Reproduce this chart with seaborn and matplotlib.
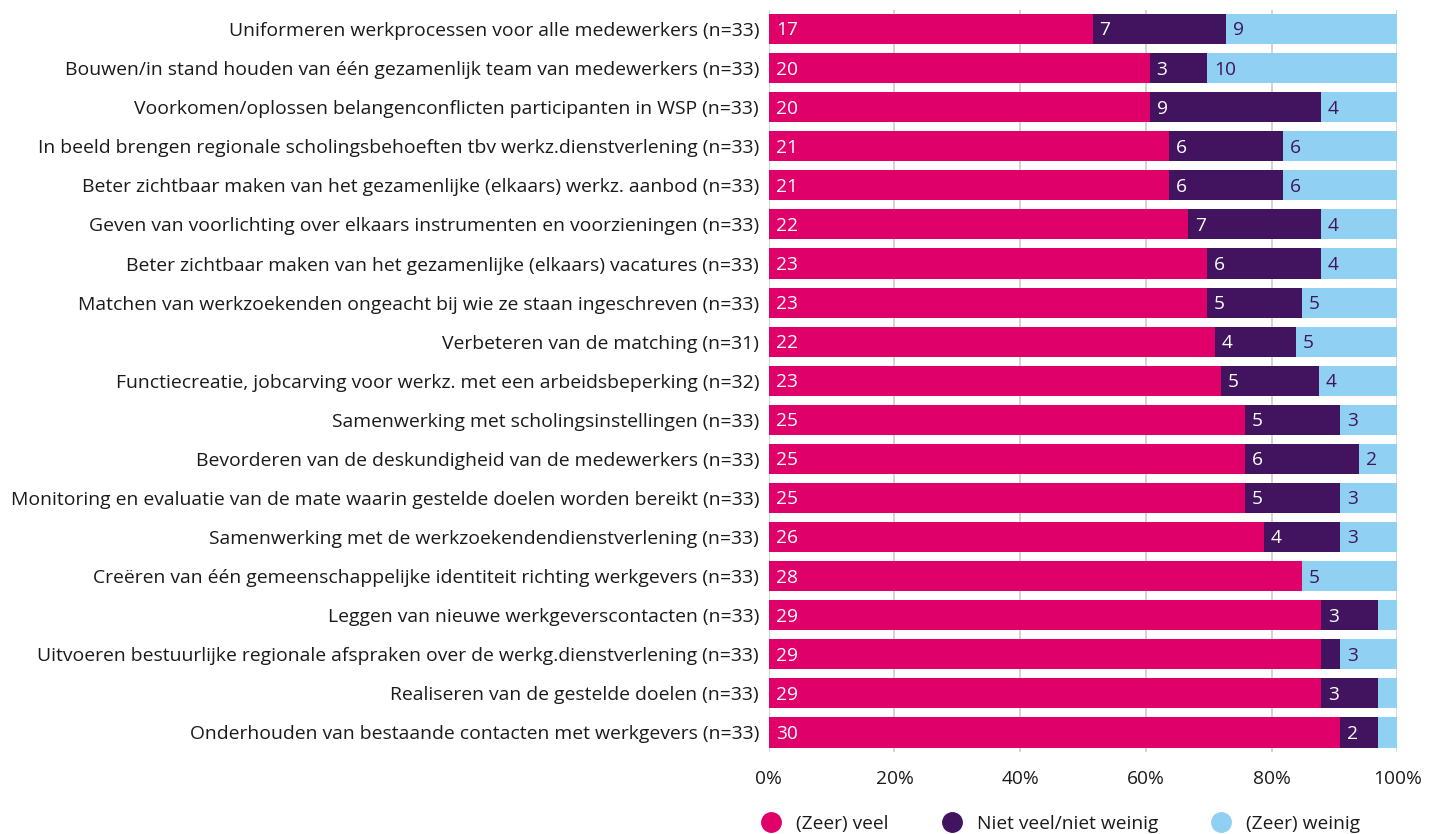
import numpy as np
import pandas as pd
import matplotlib.pyplot as plt
import seaborn as sns
from matplotlib.lines import Line2D

items = [
    "Uniformeren werkprocessen voor alle medewerkers (n=33)",
    "Bouwen/in stand houden van één gezamenlijk team van medewerkers (n=33)",
    "Voorkomen/oplossen belangenconflicten participanten in WSP (n=33)",
    "In beeld brengen regionale scholingsbehoeften tbv werkz.dienstverlening (n=33)",
    "Beter zichtbaar maken van het gezamenlijke (elkaars) werkz. aanbod (n=33)",
    "Geven van voorlichting over elkaars instrumenten en voorzieningen (n=33)",
    "Beter zichtbaar maken van het gezamenlijke (elkaars) vacatures (n=33)",
    "Matchen van werkzoekenden ongeacht bij wie ze staan ingeschreven (n=33)",
    "Verbeteren van de matching (n=31)",
    "Functiecreatie, jobcarving voor werkz. met een arbeidsbeperking (n=32)",
    "Samenwerking met scholingsinstellingen (n=33)",
    "Bevorderen van de deskundigheid van de medewerkers (n=33)",
    "Monitoring en evaluatie van de mate waarin gestelde doelen worden bereikt (n=33)",
    "Samenwerking met de werkzoekendendienstverlening (n=33)",
    "Creëren van één gemeenschappelijke identiteit richting werkgevers (n=33)",
    "Leggen van nieuwe werkgeverscontacten (n=33)",
    "Uitvoeren bestuurlijke regionale afspraken over de werkg.dienstverlening (n=33)",
    "Realiseren van de gestelde doelen (n=33)",
    "Onderhouden van bestaande contacten met werkgevers (n=33)",
]
veel = [17, 20, 20, 21, 21, 22, 23, 23, 22, 23, 25, 25, 25, 26, 28, 29, 29, 29, 30]
neutraal = [7, 3, 9, 6, 6, 7, 6, 5, 4, 5, 5, 6, 5, 4, 0, 3, 1, 3, 2]
weinig = [9, 10, 4, 6, 6, 4, 4, 5, 5, 4, 3, 2, 3, 3, 5, 1, 3, 1, 1]
series = ["(Zeer) veel", "Niet veel/niet weinig", "(Zeer) weinig"]
colors = ["#E0006A", "#42145F", "#8FD0F3"]

counts = np.array([veel, neutraal, weinig], dtype=float)
pct = counts / counts.sum(axis=0) * 100
cum = np.cumsum(pct, axis=0)

df = pd.DataFrame({"item": items, "c1": cum[0], "c2": cum[1], "c3": cum[2]})

plt.rcParams['font.family'] = ['Open Sans', 'DejaVu Sans']
fs = 13.8
fig = plt.figure(figsize=(14.29, 8.34), dpi=100)
ax = fig.add_axes([0.538, 0.0983, 0.4398, 0.8903])

# stacked via overlay of cumulative totals
for col, c in zip(["c3", "c2", "c1"], colors[::-1]):
    sns.barplot(data=df, x=col, y="item", color=c, width=0.77, ax=ax,
                saturation=1, linewidth=0, zorder=2)

ax.set_xlim(0, 100)
ax.set_xticks(range(0, 101, 20))
ax.set_xticklabels([f"{v}%" for v in range(0, 101, 20)])
ax.grid(axis="x", color="#cccccc", linewidth=1.2, zorder=0)
ax.set_axisbelow(True)
for s in ax.spines.values():
    s.set_visible(False)
ax.tick_params(axis="both", length=0, labelsize=fs, colors="#1a1a1a")
ax.tick_params(axis="y", labelsize=13.95, pad=7)
ax.tick_params(axis="x", pad=13)
ax.set_xlabel("")
ax.set_ylabel("")

# value labels
for i in range(len(items)):
    starts = [0, cum[0][i], cum[1][i]]
    for k in range(3):
        v = int(counts[k][i])
        if v < 2:
            continue
        ax.annotate(str(v), (starts[k], i), xytext=(5, -1), textcoords="offset points",
                    ha="left", va="center", fontsize=fs,
                    color="white" if k < 2 else "#42145F", zorder=3)

handles = [Line2D([], [], marker="o", linestyle="", markersize=14,
                  markerfacecolor=c, markeredgecolor=c) for c in colors]
fig.legend(handles, series, loc="center", bbox_to_anchor=(0.739, 0.012), ncol=3,
           frameon=False, fontsize=fs, handletextpad=0.3, columnspacing=2.3,
           labelcolor="#1a1a1a")

fig.savefig("out.png", dpi=100)
